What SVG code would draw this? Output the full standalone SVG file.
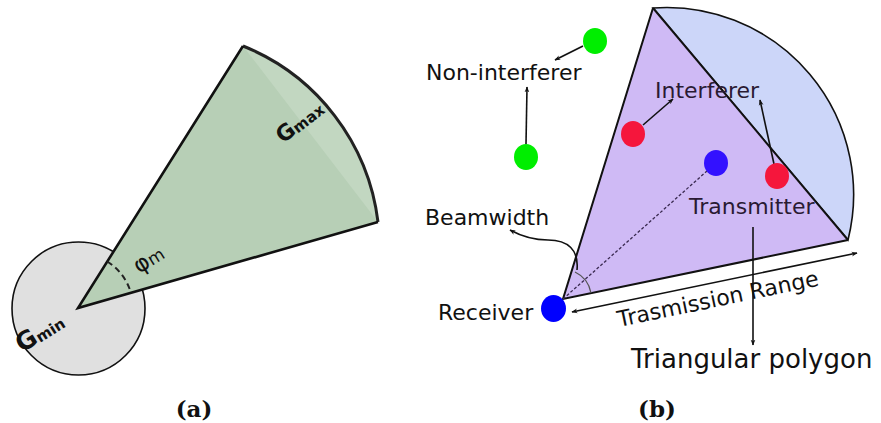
<svg xmlns="http://www.w3.org/2000/svg" width="881" height="423" viewBox="0 0 881 423">
<style>
.lbl{font-family:"DejaVu Sans",sans-serif;font-size:22px;fill:#111}
.in{fill:#2a1a33}
.g{font-family:"DejaVu Sans",sans-serif;font-weight:bold;fill:#111}
.cap{font-family:"DejaVu Serif",serif;font-weight:bold;font-size:23px;fill:#111;text-anchor:middle}
.arr{fill:none;stroke:#111;stroke-width:1.6;marker-end:url(#ah)}
.edge{fill:none;stroke:#111;stroke-width:2}
</style>
<defs>
<marker id="ah" viewBox="0 0 10 10" refX="9" refY="5" markerWidth="6" markerHeight="6" orient="auto-start-reverse" markerUnits="userSpaceOnUse">
<path d="M0,1 L10,5 L0,9 L3,5 Z" fill="#111"/>
</marker>
</defs>
<g id="a-gmin-circle">
<circle cx="78.5" cy="308.5" r="66.5" fill="#e0e0e0" stroke="#111" stroke-width="1.6"/>
</g>
<g id="a-sector">
<path d="M78,308 L243,46 A218,218 0 0 1 378,222 Z" fill="#b7cfb6"/>
<path d="M243,46 A218,218 0 0 1 378,222 Z" fill="#c2d7c1"/>
<path d="M243,46 A218,218 0 0 1 378,222" fill="none" stroke="#222" stroke-width="3"/>
<path d="M378,222 L78,308 L243,46" fill="none" stroke="#111" stroke-width="2.6" stroke-linejoin="miter"/>
<path d="M107.3,261.5 A55,55 0 0 1 130.9,292.8" fill="none" stroke="#222" stroke-width="2" stroke-dasharray="6,4"/>
<text class="lbl" style="font-size:23px" transform="translate(139,274) rotate(-32)">φ<tspan style="font-size:17px">m</tspan></text>
<text class="g" transform="translate(283,144) rotate(-38)"><tspan style="font-size:22px">G</tspan><tspan style="font-size:15px" dy="1">max</tspan></text>
<text class="g" transform="translate(22,353) rotate(-32)"><tspan style="font-size:25px">G</tspan><tspan style="font-size:15px" dy="1">min</tspan></text>
</g>
<g id="b-segment">
<path d="M653,8 A187,187 0 0 1 848,240 Z" fill="#ccd6f9" stroke="#111" stroke-width="1.6"/>
</g>
<g id="b-triangle">
<path d="M563,299 L653,8 L848,240 Z" fill="#cfbaf5"/>
<path d="M653,8 L848,240" class="edge" stroke-width="1.8"/>
<path d="M848,240 L563,299 L653,8" class="edge"/>
<path d="M575,272 A29,29 0 0 1 591,293" fill="none" stroke="#555" stroke-width="1.3"/>
</g>
<g id="connectors">
<line x1="563" y1="299" x2="716" y2="163" stroke="#3a2a50" stroke-width="1.3" stroke-dasharray="3,2"/>
<line x1="583" y1="46" x2="555" y2="60" class="arr"/>
<line x1="526" y1="144" x2="527" y2="87" class="arr"/>
<line x1="643" y1="125" x2="673" y2="99" class="arr"/>
<line x1="774" y1="164" x2="760" y2="100" class="arr"/>
<line x1="753" y1="227" x2="753" y2="345" class="arr" stroke="#333"/>
<line x1="572" y1="312" x2="857" y2="253" class="arr" marker-start="url(#ah)"/>
<path d="M577,270 C579,250 568,240 548,240 C532,240 521,236 510,230" class="arr"/>
</g>
<g id="non-interferer-1"><ellipse cx="595" cy="41" rx="12" ry="13" fill="#00ee00"/></g>
<g id="non-interferer-2"><ellipse cx="526" cy="157" rx="12" ry="13" fill="#00ee00"/></g>
<g id="interferer-1"><ellipse cx="633" cy="134" rx="12" ry="13" fill="#f5163c"/></g>
<g id="interferer-2"><ellipse cx="777" cy="176" rx="12" ry="13" fill="#f5163c"/></g>
<g id="transmitter"><ellipse cx="716" cy="163" rx="12" ry="13" fill="#3311ff"/></g>
<g id="receiver"><ellipse cx="553.5" cy="308.5" rx="12.5" ry="13.5" fill="#0000ff"/></g>
<g id="labels">
<text class="lbl" x="426" y="80">Non-interferer</text>
<text class="lbl in" x="655" y="98">Interferer</text>
<text class="lbl in" x="689" y="214">Transmitter</text>
<text class="lbl" x="425" y="225">Beamwidth</text>
<text class="lbl" x="438" y="320">Receiver</text>
<text class="lbl" transform="translate(619,327) rotate(-11.7)">Trasmission Range</text>
<text class="lbl" style="font-size:26px" x="631" y="368">Triangular polygon</text>
<text class="cap" x="194" y="417">(a)</text>
<text class="cap" x="657" y="417">(b)</text>
</g>
</svg>
